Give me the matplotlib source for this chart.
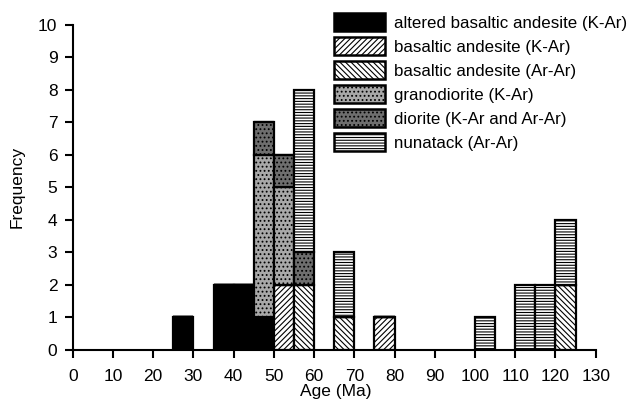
import matplotlib
matplotlib.use('Agg')
import matplotlib.pyplot as plt
from matplotlib.patches import Patch
import numpy as np

plt.rcParams['font.family'] = ['Liberation Sans', 'DejaVu Sans']
plt.rcParams['hatch.linewidth'] = 0.8

# 5 Ma bins (left edges) and counts per group
bin_left = [25, 35, 40, 45, 50, 55, 65, 75, 100, 110, 115, 120]
bin_width = 5
altered = [1, 2, 2, 1, 0, 0, 0, 0, 0, 0, 0, 0]
ba_kar = [0, 0, 0, 0, 2, 0, 0, 1, 0, 0, 0, 0]
ba_arar = [0, 0, 0, 0, 0, 2, 1, 0, 0, 0, 0, 2]
granodiorite = [0, 0, 0, 5, 3, 0, 0, 0, 0, 0, 0, 0]
diorite = [0, 0, 0, 1, 1, 1, 0, 0, 0, 0, 0, 0]
nunatack = [0, 0, 0, 0, 0, 5, 2, 0, 1, 2, 2, 2]

labels = ['altered basaltic andesite (K-Ar)', 'basaltic andesite (K-Ar)',
          'basaltic andesite (Ar-Ar)', 'granodiorite (K-Ar)',
          'diorite (K-Ar and Ar-Ar)', 'nunatack (Ar-Ar)']
series = [altered, ba_kar, ba_arar, granodiorite, diorite, nunatack]
styles = [dict(facecolor='black', hatch=None),
          dict(facecolor='white', hatch='//////'),
          dict(facecolor='white', hatch='\\\\\\\\\\\\'),
          dict(facecolor='#a8a8a8', hatch='....'),
          dict(facecolor='#6e6e6e', hatch='....'),
          dict(facecolor='white', hatch='------')]

fig = plt.figure(figsize=(6.38, 4.03), dpi=100)
ax = fig.add_axes([0.114, 0.132, 0.826, 0.806])

x = np.array(bin_left) + bin_width / 2
bottom = np.zeros(len(bin_left))
handles = []
for vals, st, lab in zip(series, styles, labels):
    vals = np.array(vals, dtype=float)
    ax.bar(x, vals, width=bin_width, bottom=bottom, edgecolor='black',
           linewidth=1.6, **st)
    bottom += vals
    handles.append(Patch(edgecolor='black', linewidth=1.8, label=lab, **st))

ax.set_xlim(0, 131)
ax.set_ylim(0, 10)
ax.set_xticks(range(0, 131, 10))
ax.set_yticks(range(0, 11))
ax.spines['top'].set_visible(False)
ax.spines['right'].set_visible(False)
ax.spines['left'].set_bounds(0, 10)
ax.spines['bottom'].set_bounds(0, 130)
for s in ['left', 'bottom']:
    ax.spines[s].set_linewidth(1.5)
ax.tick_params(direction='out', length=6, width=1.5, labelsize=12.5)
ax.tick_params(axis='x', pad=8)
ax.tick_params(axis='y', pad=5)
ax.set_xlabel('Age (Ma)', fontsize=12.5, labelpad=0)
ax.set_ylabel('Frequency', fontsize=12.5, labelpad=10)

ax.legend(handles=handles, loc='upper right', bbox_to_anchor=(1.08, 1.085),
          frameon=False, fontsize=12.2, handlelength=3.0, handleheight=1.3,
          handletextpad=0.5, labelspacing=0.33)

fig.savefig('out.png', dpi=100)
